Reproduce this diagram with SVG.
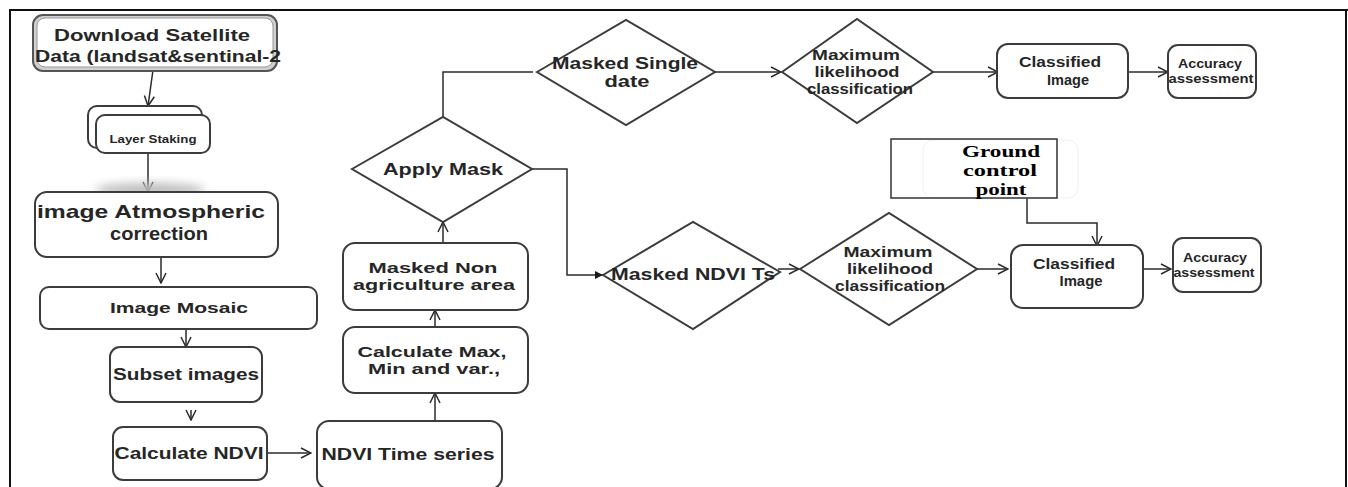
<svg xmlns="http://www.w3.org/2000/svg" width="1348" height="487" viewBox="0 0 1348 487">
<defs>
<style>
.box{fill:#fff;stroke:#3c3c3c;stroke-width:2}
.dia{fill:#fff;stroke:#3c3c3c;stroke-width:2}
.t{font-family:"Liberation Sans",Arial,sans-serif;font-weight:bold;fill:#262626;text-anchor:middle}
.s{font-family:"Liberation Serif","Times New Roman",serif;font-weight:bold;fill:#000;text-anchor:middle}
.c{fill:none;stroke:#2b2b2b;stroke-width:1.5}
</style>
<marker id="v" viewBox="0 0 12 12" refX="11" refY="6" markerWidth="12" markerHeight="12" markerUnits="userSpaceOnUse" orient="auto">
<path d="M1,1 L11,6 L1,11" fill="none" stroke="#2b2b2b" stroke-width="1.5"/>
</marker>
<marker id="f" viewBox="0 0 10 10" refX="10" refY="5" markerWidth="10" markerHeight="8" markerUnits="userSpaceOnUse" orient="auto">
<path d="M0,0 L10,5 L0,10 Z" fill="#1a1a1a"/>
</marker>
<filter id="blur" x="-50%" y="-50%" width="200%" height="200%"><feGaussianBlur stdDeviation="5"/></filter>
</defs>
<rect width="1348" height="487" fill="#fff"/>
<path d="M10,487 L10,10 L1348,10" fill="none" stroke="#111" stroke-width="2"/>
<line x1="1346" y1="10" x2="1346" y2="487" stroke="#111" stroke-width="2"/>

<g id="connectors">
<line class="c" x1="153" y1="70" x2="148" y2="106" marker-end="url(#v)"/>
<line class="c" x1="148" y1="153" x2="148" y2="192" marker-end="url(#v)"/>
<line class="c" x1="161" y1="258" x2="161" y2="283" marker-end="url(#v)"/>
<line class="c" x1="186" y1="323" x2="186" y2="347" marker-end="url(#v)"/>
<line class="c" x1="191" y1="410" x2="191" y2="420" marker-end="url(#v)"/>
<line class="c" x1="267" y1="453" x2="311" y2="453" marker-end="url(#v)"/>
<line class="c" x1="435" y1="421" x2="435" y2="393" marker-end="url(#v)"/>
<line class="c" x1="435" y1="327" x2="435" y2="310" marker-end="url(#v)"/>
<line class="c" x1="443" y1="243" x2="443" y2="222" marker-end="url(#v)"/>
<polyline class="c" points="443,117 443,72 533,72"/>
<line class="c" x1="715" y1="72" x2="781" y2="72" marker-end="url(#v)"/>
<line class="c" x1="933" y1="72" x2="998" y2="72" marker-end="url(#v)"/>
<line class="c" x1="1110" y1="72" x2="1168" y2="72" marker-end="url(#v)"/>
<polyline class="c" points="532,169 567,169 567,275 603,275" marker-end="url(#f)"/>
<line class="c" x1="778" y1="269" x2="799" y2="269" marker-end="url(#v)"/>
<line class="c" x1="977" y1="269" x2="1008" y2="269" marker-end="url(#v)"/>
<line class="c" x1="1143" y1="269" x2="1171" y2="269" marker-end="url(#v)"/>
<polyline class="c" points="1027,198 1027,223 1097,223 1097,246" marker-end="url(#v)"/>
</g>

<g id="download">
<rect x="33" y="15" width="244" height="56" rx="10" fill="#d0d0d0" stroke="#555" stroke-width="2"/>
<rect x="37" y="18" width="236" height="49" rx="8" fill="#fff" stroke="#999" stroke-width="1"/>
<text class="t" x="152" y="41" font-size="17" textLength="196" lengthAdjust="spacingAndGlyphs">Download Satellite</text>
<text class="t" x="158" y="62" font-size="17" textLength="246" lengthAdjust="spacingAndGlyphs">Data (landsat&amp;sentinal-2</text>
</g>

<g id="layer">
<rect class="box" x="88" y="106" width="114" height="42" rx="9"/>
<rect class="box" x="96" y="115" width="114" height="38" rx="9"/>
<text class="t" x="153" y="143" font-size="10" textLength="87" lengthAdjust="spacingAndGlyphs">Layer Staking</text>
</g>

<ellipse cx="150" cy="190" rx="55" ry="7" fill="#bdbdbd" filter="url(#blur)"/>
<g id="atmos">
<rect class="box" x="35" y="192" width="243" height="65" rx="12"/>
<text class="t" x="151" y="218" font-size="19" textLength="228" lengthAdjust="spacingAndGlyphs">image Atmospheric</text>
<text class="t" x="159" y="240" font-size="19" textLength="98" lengthAdjust="spacingAndGlyphs">correction</text>
</g>

<g id="mosaic">
<rect class="box" x="40" y="287" width="277" height="42" rx="9"/>
<text class="t" x="179" y="313" font-size="15" textLength="138" lengthAdjust="spacingAndGlyphs">Image Mosaic</text>
</g>

<g id="subset">
<rect class="box" x="110" y="347" width="152" height="55" rx="10"/>
<text class="t" x="186" y="380" font-size="16" textLength="146" lengthAdjust="spacingAndGlyphs">Subset images</text>
</g>

<g id="calcndvi">
<rect class="box" x="113" y="427" width="154" height="53" rx="10"/>
<text class="t" x="189" y="459" font-size="16" textLength="149" lengthAdjust="spacingAndGlyphs">Calculate NDVI</text>
</g>

<g id="ndvits">
<rect class="box" x="317" y="421" width="185" height="68" rx="12"/>
<text class="t" x="408" y="460" font-size="17" textLength="173" lengthAdjust="spacingAndGlyphs">NDVI Time series</text>
</g>

<g id="calcmax">
<rect class="box" x="343" y="327" width="185" height="66" rx="12"/>
<text class="t" x="432" y="357" font-size="15" textLength="149" lengthAdjust="spacingAndGlyphs">Calculate Max,</text>
<text class="t" x="434" y="374" font-size="15" textLength="132" lengthAdjust="spacingAndGlyphs">Min and var.,</text>
</g>

<g id="masknon">
<rect class="box" x="343" y="243" width="185" height="67" rx="12"/>
<text class="t" x="433" y="273" font-size="15" textLength="129" lengthAdjust="spacingAndGlyphs">Masked Non</text>
<text class="t" x="434" y="290" font-size="15" textLength="162" lengthAdjust="spacingAndGlyphs">agriculture area</text>
</g>

<g id="applymask">
<polygon class="dia" points="352,169 443,117 532,169 443,222"/>
<text class="t" x="443" y="175" font-size="16" textLength="120" lengthAdjust="spacingAndGlyphs">Apply Mask</text>
</g>

<g id="maskedsingle">
<polygon class="dia" points="537,72 626,20 715,72 626,125"/>
<text class="t" x="625" y="69" font-size="16" textLength="146" lengthAdjust="spacingAndGlyphs">Masked Single</text>
<text class="t" x="627" y="87" font-size="16" textLength="45" lengthAdjust="spacingAndGlyphs">date</text>
</g>

<g id="maxlike1">
<polygon class="dia" points="782,72 857,19 933,72 857,123"/>
<text class="t" x="856" y="60" font-size="15" textLength="88" lengthAdjust="spacingAndGlyphs">Maximum</text>
<text class="t" x="857" y="77" font-size="15" textLength="85" lengthAdjust="spacingAndGlyphs">likelihood</text>
<text class="t" x="860" y="94" font-size="15" textLength="106" lengthAdjust="spacingAndGlyphs">classification</text>
</g>

<g id="classified1">
<rect class="box" x="997" y="44" width="131" height="54" rx="11"/>
<text class="t" x="1060" y="67" font-size="15" textLength="82" lengthAdjust="spacingAndGlyphs">Classified</text>
<text class="t" x="1068" y="85" font-size="15" textLength="42" lengthAdjust="spacingAndGlyphs">Image</text>
</g>

<g id="accuracy1">
<rect class="box" x="1168" y="45" width="88" height="53" rx="10"/>
<text class="t" x="1210" y="68" font-size="12" textLength="64" lengthAdjust="spacingAndGlyphs">Accuracy</text>
<text class="t" x="1211" y="83" font-size="12" textLength="85" lengthAdjust="spacingAndGlyphs">assessment</text>
</g>

<g id="gcp">
<rect x="923" y="140" width="155" height="58" rx="10" fill="none" stroke="#f0f0f0" stroke-width="1"/>
<rect x="891" y="139" width="166" height="59" fill="none" stroke="#333" stroke-width="1.5"/>
<text class="s" x="1001" y="157" font-size="17" textLength="78" lengthAdjust="spacingAndGlyphs">Ground</text>
<text class="s" x="1000" y="176" font-size="17" textLength="74" lengthAdjust="spacingAndGlyphs">control</text>
<text class="s" x="1001" y="195" font-size="17" textLength="51" lengthAdjust="spacingAndGlyphs">point</text>
</g>

<g id="maskedndvi">
<polygon class="dia" points="603,275 693,222 780,272 693,329"/>
<text class="t" x="693" y="280" font-size="16" textLength="164" lengthAdjust="spacingAndGlyphs">Masked NDVI Ts</text>
</g>

<g id="maxlike2">
<polygon class="dia" points="800,269 889,213 977,269 889,325"/>
<text class="t" x="888" y="257" font-size="15" textLength="89" lengthAdjust="spacingAndGlyphs">Maximum</text>
<text class="t" x="890" y="274" font-size="15" textLength="86" lengthAdjust="spacingAndGlyphs">likelihood</text>
<text class="t" x="890" y="291" font-size="15" textLength="110" lengthAdjust="spacingAndGlyphs">classification</text>
</g>

<g id="classified2">
<rect class="box" x="1011" y="245" width="132" height="63" rx="12"/>
<text class="t" x="1074" y="269" font-size="15" textLength="82" lengthAdjust="spacingAndGlyphs">Classified</text>
<text class="t" x="1081" y="286" font-size="15" textLength="43" lengthAdjust="spacingAndGlyphs">Image</text>
</g>

<g id="accuracy2">
<rect class="box" x="1173" y="238" width="88" height="54" rx="10"/>
<text class="t" x="1215" y="262" font-size="12" textLength="64" lengthAdjust="spacingAndGlyphs">Accuracy</text>
<text class="t" x="1214" y="277" font-size="12" textLength="81" lengthAdjust="spacingAndGlyphs">assessment</text>
</g>
</svg>
